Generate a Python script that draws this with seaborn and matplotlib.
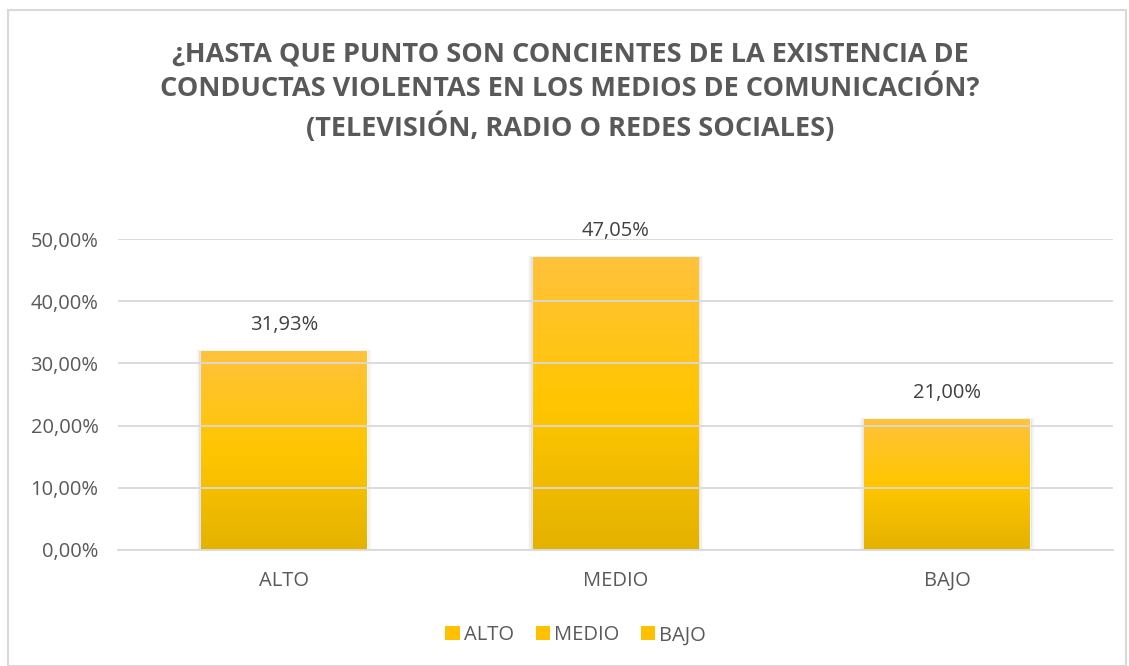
import numpy as np
import pandas as pd
import matplotlib
matplotlib.use("Agg")
import matplotlib.pyplot as plt
import seaborn as sns
from matplotlib.colors import LinearSegmentedColormap
from matplotlib.patches import Patch, Rectangle
from matplotlib.ticker import FuncFormatter

categories = ["ALTO", "MEDIO", "BAJO"]
values = [0.3193, 0.4705, 0.2100]
value_labels = ["31,93%", "47,05%", "21,00%"]
title = ("¿HASTA QUE PUNTO SON CONCIENTES DE LA EXISTENCIA DE\n"
         "CONDUCTAS VIOLENTAS EN LOS MEDIOS DE COMUNICACIÓN?\n"
         "(TELEVISIÓN, RADIO O REDES SOCIALES)")

TEXT = "#595959"
GRID = "#D9D9D9"
gold = LinearSegmentedColormap.from_list("gold", ["#E4B200", "#FFC600", "#FFC23C"])

sns.set_theme(style="white")
plt.rcParams["font.family"] = ["Open Sans", "DejaVu Sans"]

df = pd.DataFrame({"cat": categories, "val": values})

fig = plt.figure(figsize=(11.29, 6.66), dpi=100)
ax = fig.add_axes([0.1045, 0.1742, 0.8813, 0.4669])

sns.barplot(data=df, x="cat", y="val", color="#FFC000", width=0.5, ax=ax,
            saturation=1, zorder=2)

# gradient fill clipped to each bar, plus a soft shadow
grad = np.linspace(0, 1, 256).reshape(-1, 1)
for p in ax.patches:
    x0, y0 = p.get_x(), p.get_y()
    w, h = p.get_width(), p.get_height()
    for k, a in enumerate([0.06, 0.04, 0.02]):
        d = 0.005 * (k + 1)
        ax.add_patch(Rectangle((x0 - d, y0), w + 2 * d, h + d * 0.2,
                               color="black", alpha=a, lw=0, zorder=1))
    p.set_facecolor("none")
    im = ax.imshow(grad, aspect="auto", cmap=gold, origin="lower",
                   extent=[x0, x0 + w, y0, y0 + h], zorder=2)
    im.set_clip_path(p)

ax.set_xlim(-0.5, 2.5)
ax.set_ylim(0, 0.5)
ax.set_yticks(np.arange(0, 0.51, 0.1))
ax.yaxis.set_major_formatter(FuncFormatter(lambda v, _: f"{v * 100:.2f}%".replace(".", ",")))
ax.grid(axis="y", color=GRID, lw=1.3, zorder=3)
ax.set_axisbelow(False)
for s in ["top", "right", "left"]:
    ax.spines[s].set_visible(False)
ax.spines["bottom"].set_color(GRID)
ax.spines["bottom"].set_linewidth(1.3)
ax.spines["bottom"].set_zorder(4)
ax.tick_params(axis="both", length=0, labelsize=14.5, labelcolor=TEXT)
ax.tick_params(axis="y", pad=14)
ax.tick_params(axis="x", pad=15)
ax.set_xlabel("")
ax.set_ylabel("")

for i, (v, lab) in enumerate(zip(values, value_labels)):
    ax.annotate(lab, (i, v), xytext=(0, 12), textcoords="offset points",
                ha="center", va="bottom", fontsize=14.5, color="#404040")

fig.text(0.505, 0.862, title, ha="center", va="center", fontsize=19.5,
         fontweight="bold", color=TEXT, linespacing=1.4)

handles = [Patch(facecolor="#FFC000", edgecolor="none", label=c) for c in categories]
fig.legend(handles=handles, loc="center", bbox_to_anchor=(0.51, 0.046), ncol=3,
           frameon=False, fontsize=14.5, labelcolor=TEXT, handlelength=0.7,
           handleheight=0.7, handletextpad=0.2, columnspacing=1.1)

fig.add_artist(Rectangle((0.007, 0.0), 0.99, 0.985, transform=fig.transFigure,
                         fill=False, edgecolor=GRID, lw=1.5))

fig.savefig("out.png", dpi=100)
